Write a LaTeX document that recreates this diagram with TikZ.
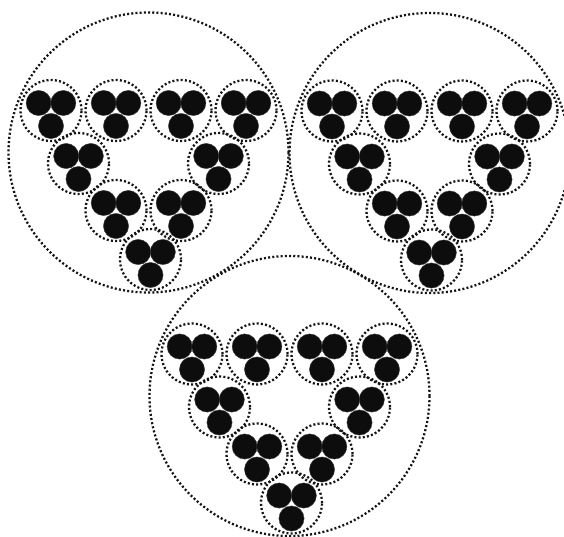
\documentclass[tikz,border=0pt]{standalone}
\tikzset{
  dotline/.style={draw=black!92, line width=2.3pt, dash pattern=on 2pt off 2.2pt},
  ball/.style={fill=black!95, draw=black!75, line width=0.4pt},
  trio/.pic={
    \draw[dotline] (0,0) circle (30.5pt);
    \filldraw[ball] (-12.3,-7.5) circle (12.6pt);
    \filldraw[ball] (12.3,-7.5) circle (12.6pt);
    \filldraw[ball] (0,15.5) circle (12.6pt);
  }
}
\begin{document}
\begin{tikzpicture}[x=1pt,y=-1pt]
\useasboundingbox (0,0) rectangle (564,536);
\foreach \cx/\cy in {148.5/152.5, 429.5/153, 289.5/396}{
  \draw[dotline] (\cx,\cy) circle (140pt);
}
\foreach \cx/\cy in {148.5/152.5, 429.5/153, 289.5/396}{
  \foreach \dx/\dy in {-97.5/-42, -32.5/-42, 32.5/-42, 97.5/-42, -70/11, 70/11, -32.5/58, 32.5/58, 2/107}{
    \pic at (\cx+\dx,\cy+\dy) {trio};
  }
}
\end{tikzpicture}
\end{document}
